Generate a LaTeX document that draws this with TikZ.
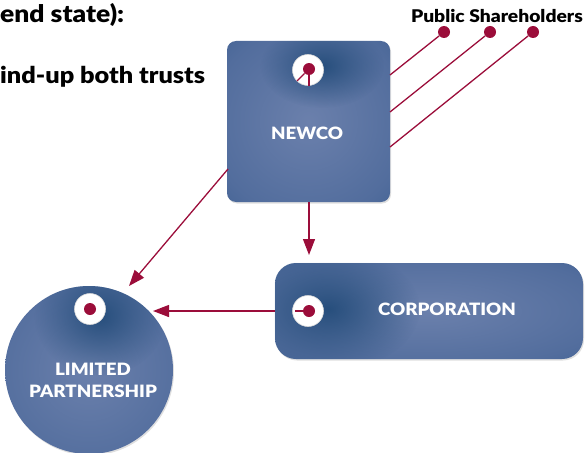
\documentclass[tikz,border=0pt]{standalone}
\usepackage{fontspec}
\setmainfont{Lato}[FakeStretch=1.12]
\newfontfamily\heavy{Lato Black}[FakeStretch=1.1]
\usetikzlibrary{arrows.meta,fadings,shadows}
\definecolor{arrowred}{HTML}{9B0D3A}
\definecolor{bluelight}{HTML}{6B80AC}
\definecolor{bluemid}{HTML}{526D9D}
\definecolor{blueedge}{HTML}{3C5E90}
\definecolor{bluedark}{HTML}{1E4876}
\pgfdeclareradialshading{pillow}{\pgfpoint{0bp}{0bp}}{color(0bp)=(bluelight); color(30bp)=(bluemid); color(44bp)=(blueedge); color(50bp)=(bluedark); color(75bp)=(bluedark)}
\tikzfading[name=fuzzy, inner color=transparent!10, outer color=transparent!100]
\tikzset{
  pillowshape/.style={draw=none, shading=pillow, drop shadow={opacity=0.25, shadow xshift=1pt, shadow yshift=-1.5pt}},
  hole/.style={circle, fill=white, draw=black!15, line width=0.6pt, minimum size=31pt, inner sep=0pt},
  reddot/.style={circle, fill=arrowred, minimum size=12pt, inner sep=0pt},
  conn/.style={draw=arrowred, line width=1.3pt},
  arr/.style={conn, -{Triangle[length=16pt,width=12pt]}},
  whitetxt/.style={text=white, font=\heavy\fontsize{17}{22}\selectfont, inner sep=0pt, align=center},
  blacktxt/.style={text=black, inner sep=0pt, anchor=base west},
  holeshadow/.style={fill=bluedark, path fading=fuzzy, fill opacity=0.95}
}
\begin{document}
\begin{tikzpicture}[x=1pt,y=-1pt]
\useasboundingbox (0,0) rectangle (585,452);
% title texts
\node[blacktxt, font=\heavy\fontsize{24}{28}\selectfont] (t1) at (0,23) {end state):};
\node[blacktxt, font=\heavy\fontsize{23}{28}\selectfont] (t2) at (0,83) {ind-up both trusts};
\node[blacktxt, anchor=base east, font=\heavy\fontsize{17.5}{20}\selectfont] (ps) at (583,23) {Public Shareholders};
% shareholder dots
\node[reddot] (sh1) at (444,32) {};
\node[reddot] (sh2) at (490,32) {};
\node[reddot] (sh3) at (533,32) {};
% main shapes
\node[pillowshape, rectangle, rounded corners=9pt, minimum width=163pt, minimum height=161pt] (newco) at (308.5,121.5) {};
\node[pillowshape, rectangle, rounded corners=21pt, minimum width=308pt, minimum height=96pt] (corp) at (429,311) {};
\node[pillowshape, circle, minimum size=168pt] (lp) at (89,370) {};
% hole shadows, clipped to their shapes
\begin{scope}
  \clip[rounded corners=9pt] (newco.south west) rectangle (newco.north east);
  \fill[holeshadow] (322,66) ellipse [x radius=62pt, y radius=42pt];
\end{scope}
\begin{scope}
  \clip[rounded corners=21pt] (corp.south west) rectangle (corp.north east);
  \fill[holeshadow] (328,309) ellipse [x radius=92pt, y radius=62pt];
\end{scope}
\begin{scope}
  \clip (lp.center) circle [radius=84pt];
  \fill[holeshadow] (100,316) ellipse [x radius=66pt, y radius=60pt];
\end{scope}
% holes
\node[hole] (h1) at (308,70) {};
\node[hole] (h2) at (308,311) {};
\node[hole] (h3) at (90,309) {};
\node[reddot] (d1) at (309,69) {};
\node[reddot] (d2) at (309,311) {};
\node[reddot] (d3) at (90,309) {};
% labels
\node[whitetxt] (lnewco) at (307,133.5) {NEWCO};
\node[whitetxt] (lcorp) at (447,309.5) {CORPORATION};
\node[whitetxt] (llp) at (93,380) {LIMITED\\PARTNERSHIP};
% connector end points
\coordinate (e1) at (390,75);
\coordinate (e2) at (390,112);
\coordinate (e3) at (390,147);
\coordinate (s1) at (297,81);
\coordinate (s2) at (309,86);
\coordinate (s3) at (295,311);
\coordinate (nl) at (228,169);
\coordinate (lpt1) at (129,286);
\coordinate (lpt2) at (153,311);
\coordinate (cpt) at (309,255);
% connectors
\draw[conn] (sh1) -- (e1);
\draw[conn] (sh2) -- (e2);
\draw[conn] (sh3) -- (e3);
\draw[conn] (d1) -- (s1);
\draw[conn] (d1) -- (s2);
\draw[conn] (d2) -- (s3);
\draw[arr] (nl) -- (lpt1);
\draw[arr] (newco.south -| cpt) -- (cpt);
\draw[arr] (corp.west) -- (lpt2);
\end{tikzpicture}
\end{document}
